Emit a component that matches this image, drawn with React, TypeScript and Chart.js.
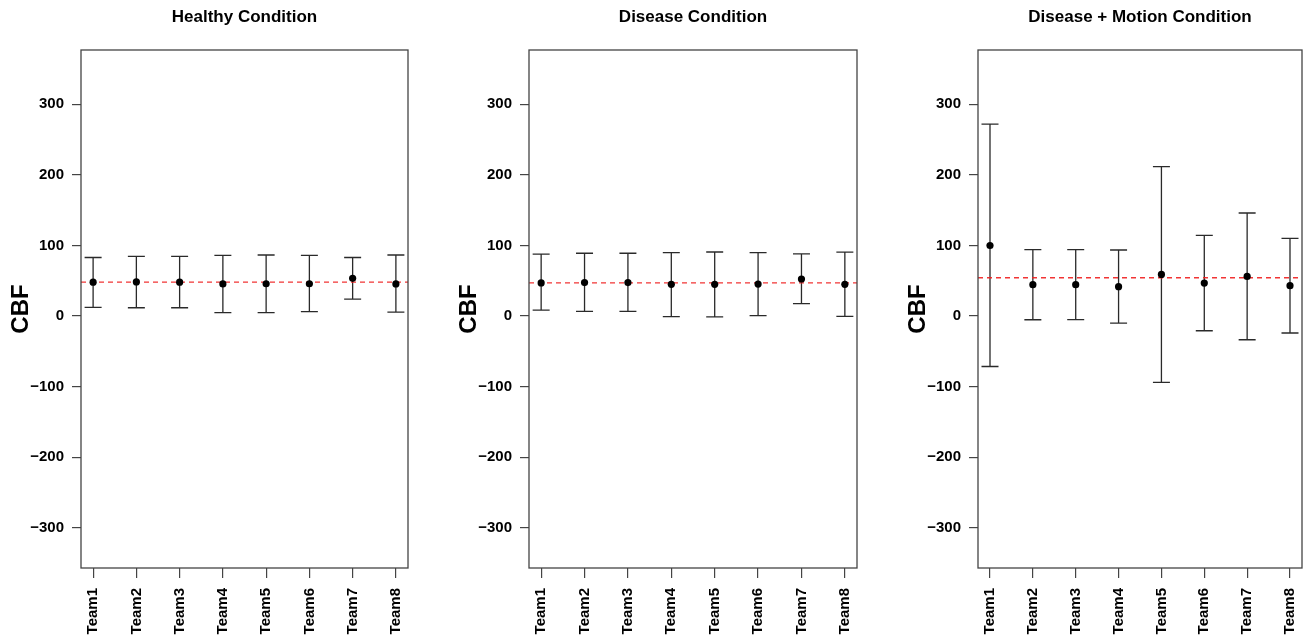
import React, { useEffect, useRef } from "react";
import { Chart, registerables } from "chart.js";

Chart.register(...registerables);

// ---------- data ----------
const categories = ["Team1", "Team2", "Team3", "Team4", "Team5", "Team6", "Team7", "Team8"];
const yTicks = [-300, -200, -100, 0, 100, 200, 300];
const titles = ["Healthy Condition", "Disease Condition", "Disease + Motion Condition"];

const healthyMean = [48, 48.3, 48, 45.6, 45.8, 45.8, 53.5, 45.5];
const healthyUpper = [83, 84.5, 84.5, 86, 86.5, 86, 83, 86.5];
const healthyLower = [12.2, 11.8, 11.8, 4.8, 5, 6.2, 24, 5.5];
const healthyRef = 48;

const diseaseMean = [47, 47.5, 47.5, 45, 45, 45.3, 52.5, 45];
const diseaseUpper = [87.7, 89, 89, 90, 90.8, 90, 88, 90.5];
const diseaseLower = [8.4, 6.6, 6.6, -0.8, -1.3, 0.5, 17.5, -0.5];
const diseaseRef = 47;

const motionMean = [100, 44.4, 44.5, 41.6, 59, 46.8, 56.2, 43];
const motionUpper = [272, 94, 94, 93.6, 211.8, 114.4, 146, 110];
const motionLower = [-71.5, -5.2, -5, -10, -94, -20.8, -33.6, -24];
const motionRef = 54.3;

const Y_MIN = -357;
const Y_MAX = 377;
const X_MIN = 0.72;
const X_MAX = 8.28;

const FONT = "'Liberation Sans', Arial, Helvetica, sans-serif";

type Panel = {
  title: string;
  mean: number[];
  upper: number[];
  lower: number[];
  ref: number;
  canvasLeft: number;
  canvasWidth: number;
  boxRight: number; // absolute px
};

const panels: Panel[] = [
  { title: titles[0], mean: healthyMean, upper: healthyUpper, lower: healthyLower, ref: healthyRef, canvasLeft: 0, canvasWidth: 435, boxRight: 408 },
  { title: titles[1], mean: diseaseMean, upper: diseaseUpper, lower: diseaseLower, ref: diseaseRef, canvasLeft: 448, canvasWidth: 435, boxRight: 857 },
  { title: titles[2], mean: motionMean, upper: motionUpper, lower: motionLower, ref: motionRef, canvasLeft: 897, canvasWidth: 409, boxRight: 1304 },
];

const H = 637;
const BOX_TOP = 50;
const BOX_BOTTOM = 568;
const Y_AXIS_W = 81;

function makePlugin(p: Panel) {
  return {
    id: "rstyle",
    beforeDatasetsDraw(chart: any) {
      const ctx = chart.ctx;
      const xs = chart.scales.x;
      const ys = chart.scales.y;
      ctx.save();
      ctx.strokeStyle = "#2a2a2a";
      ctx.lineWidth = 1.3;
      p.mean.forEach((_, i) => {
        const x = xs.getPixelForValue(i + 1);
        const yu = ys.getPixelForValue(p.upper[i]);
        const yl = ys.getPixelForValue(p.lower[i]);
        ctx.beginPath();
        ctx.moveTo(x, yu);
        ctx.lineTo(x, yl);
        ctx.moveTo(x - 8.5, yu);
        ctx.lineTo(x + 8.5, yu);
        ctx.moveTo(x - 8.5, yl);
        ctx.lineTo(x + 8.5, yl);
        ctx.stroke();
      });
      ctx.restore();
    },
    afterDraw(chart: any) {
      const ctx = chart.ctx;
      const a = chart.chartArea;
      ctx.save();
      ctx.strokeStyle = "#444";
      ctx.lineWidth = 1.3;
      ctx.strokeRect(a.left, a.top, a.right - a.left, a.bottom - a.top);
      ctx.fillStyle = "#000";
      ctx.font = `bold 17px ${FONT}`;
      ctx.textAlign = "center";
      ctx.textBaseline = "middle";
      ctx.fillText(p.title, (a.left + a.right) / 2, 17);
      ctx.restore();
    },
  };
}

function PanelChart({ p }: { p: Panel }) {
  const ref = useRef<HTMLCanvasElement>(null);
  useEffect(() => {
    if (!ref.current) return;
    const padRight = p.canvasWidth - (p.boxRight - p.canvasLeft);
    const chart = new Chart(ref.current, {
      type: "scatter",
      data: {
        datasets: [
          {
            type: "scatter",
            data: p.mean.map((v, i) => ({ x: i + 1, y: v })),
            backgroundColor: "#000",
            borderColor: "#000",
            borderWidth: 0,
            pointRadius: 3.6,
          } as any,
          {
            type: "line",
            data: [
              { x: X_MIN, y: p.ref },
              { x: X_MAX, y: p.ref },
            ],
            borderColor: "rgba(240,30,30,0.9)",
            borderWidth: 1.3,
            borderDash: [5, 4],
            pointRadius: 0,
            fill: false,
          } as any,
        ],
      },
      options: {
        responsive: false,
        animation: false,
        events: [],
        layout: { padding: { left: 0, right: padRight, top: BOX_TOP, bottom: 0 } },
        plugins: { legend: { display: false }, tooltip: { enabled: false }, title: { display: false } },
        scales: {
          x: {
            type: "linear",
            min: X_MIN,
            max: X_MAX,
            bounds: "data",
            border: { display: false },
            grid: { drawOnChartArea: false, drawTicks: true, tickLength: 10, color: "#444", lineWidth: 1.2 },
            ticks: {
              autoSkip: false,
              minRotation: 90,
              maxRotation: 90,
              padding: 10,
              color: "#000",
              font: { family: FONT, size: 15, weight: "bold" },
              callback: (v: any) => categories[Math.round(Number(v)) - 1] ?? "",
            },
            afterBuildTicks: (axis: any) => {
              axis.ticks = categories.map((_, i) => ({ value: i + 1 }));
            },
            afterFit: (axis: any) => {
              axis.height = H - BOX_BOTTOM;
              axis.paddingLeft = 0;
              axis.paddingRight = 0;
            },
          },
          y: {
            type: "linear",
            min: Y_MIN,
            max: Y_MAX,
            bounds: "data",
            border: { display: false },
            grid: { drawOnChartArea: false, drawTicks: true, tickLength: 9, color: "#444", lineWidth: 1.2 },
            ticks: {
              padding: 8,
              color: "#000",
              font: { family: FONT, size: 15, weight: "bold" },
              callback: (v: any) => (Number(v) < 0 ? "\u2212" + Math.abs(Number(v)) : String(v)),
            },
            title: {
              display: true,
              text: "CBF",
              color: "#000",
              font: { family: FONT, size: 24, weight: "bold" },
              padding: { top: 7, bottom: 0 },
            },
            afterBuildTicks: (axis: any) => {
              axis.ticks = yTicks.map((v) => ({ value: v }));
            },
            afterFit: (axis: any) => {
              axis.width = Y_AXIS_W;
              axis.paddingTop = 0;
              axis.paddingBottom = 0;
            },
          },
        },
      } as any,
      plugins: [makePlugin(p)],
    });
    return () => chart.destroy();
  }, [p]);
  return (
    <canvas
      ref={ref}
      width={p.canvasWidth}
      height={H}
      style={{ position: "absolute", left: p.canvasLeft, top: 0, width: p.canvasWidth, height: H }}
    />
  );
}

export default function App() {
  return (
    <div style={{ position: "absolute", left: 0, top: 0, width: 1306, height: H, overflow: "hidden", background: "#fff" }}>
      {panels.map((p) => (
        <PanelChart key={p.title} p={p} />
      ))}
    </div>
  );
}
